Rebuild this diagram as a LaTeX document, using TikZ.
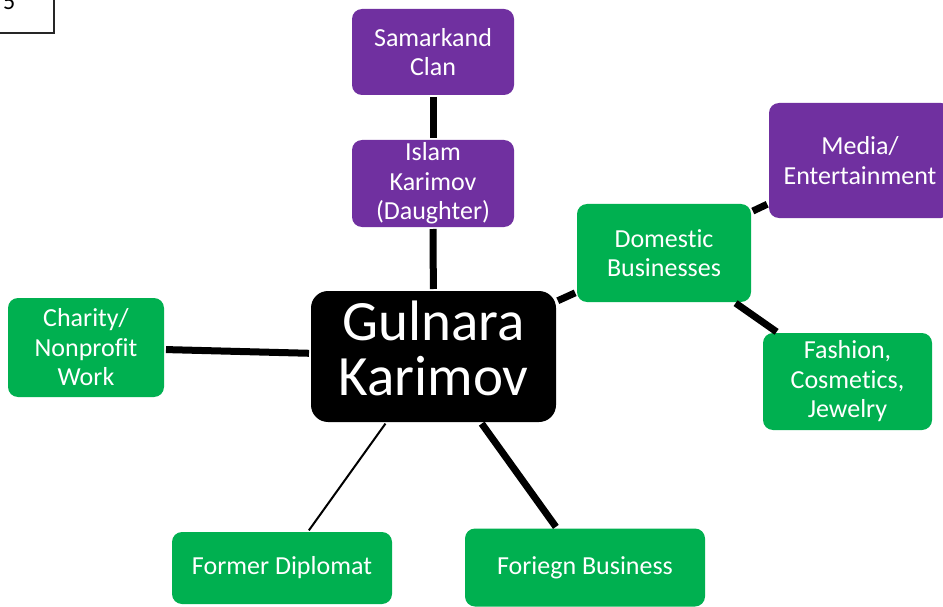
\documentclass[tikz,border=0pt]{standalone}
\usepackage{fontspec}
\setmainfont{Carlito}[Ligatures={NoCommon,NoContextual}]
\definecolor{clanpurple}{HTML}{7030A0}
\definecolor{bizgreen}{HTML}{00B050}
\begin{document}
\begin{tikzpicture}[x=1pt,y=-1pt,
  box/.style={rounded corners=10pt, inner sep=0pt, outer sep=0pt, text=white,
    align=center, font=\fontsize{26}{29.5}\selectfont},
  purplebox/.style={box, fill=clanpurple},
  greenbox/.style={box, fill=bizgreen},
  centrebox/.style={box, fill=black, rounded corners=17pt,
    font=\fontsize{57}{53}\selectfont},
  link/.style={line width=7pt, shorten >=2pt, shorten <=2pt},
  thinlink/.style={line width=2pt, shorten >=2pt, shorten <=2pt}]
\useasboundingbox (0,0) rectangle (943,607);
\fill[white] (0,0) rectangle (943,607);

% page number tab in the corner
\draw[line width=1.2pt, draw=black!85] (-5,-5) rectangle (54,33);
\node[anchor=base west, inner sep=0pt, font=\fontsize{24}{24}\selectfont] (pagenum) at (3,10) {5};

% nodes
\node[purplebox, minimum width=162pt, minimum height=86pt] (clan) at (433,52) {Samarkand\\Clan};
\node[purplebox, minimum width=162pt, minimum height=87pt] (father) at (433,183.5) {Islam\\Karimov\\(Daughter)};
\node[centrebox, minimum width=245pt, minimum height=131pt] (gul) at (433.5,356.5)
  {\raisebox{8pt}{\begin{tabular}{@{}c@{}}Gulnara\\Karimov\end{tabular}}};
\node[greenbox, minimum width=174pt, minimum height=98pt] (dom) at (664,253) {Domestic\\Businesses};
\node[purplebox, minimum width=182pt, minimum height=115pt] (media) at (860,160.5) {Media/\\Entertainment};
\node[greenbox, minimum width=169pt, minimum height=97pt] (fashion) at (847.5,381.5) {Fashion,\\Cosmetics,\\Jewelry};
\node[greenbox, minimum width=156pt, minimum height=99pt] (charity) at (86,347.5) {Charity/\\Nonprofit\\Work};
\node[greenbox, minimum width=220pt, minimum height=72pt] (diplomat) at (282,568) {Former Diplomat};
\node[greenbox, minimum width=240pt, minimum height=78pt] (foreign) at (585,567.5) {Foriegn Business};

% connectors
\draw[link] (clan) -- (father);
\draw[link] (father) -- (gul);
\draw[link] (charity) -- (gul);
\draw[link] (gul) -- (dom);
\draw[link] (dom) -- (media);
\draw[link] (dom) -- (fashion);
\draw[thinlink] (gul) -- (diplomat);
\draw[link] (gul) -- (foreign);
\end{tikzpicture}
\end{document}
